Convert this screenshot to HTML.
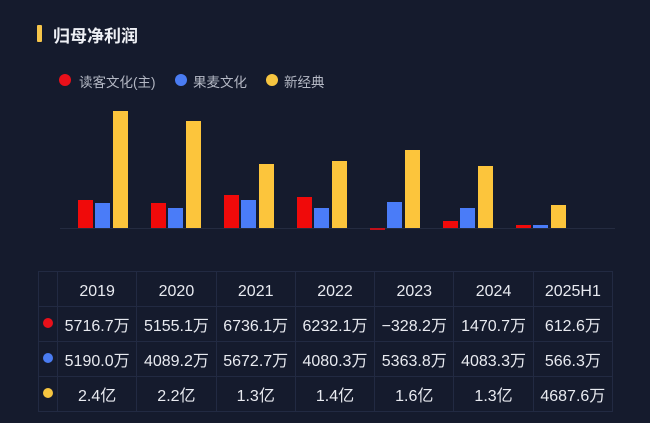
<!DOCTYPE html>
<html><head><meta charset="utf-8"><style>
body{margin:0;width:650px;height:423px;background:#151b2d;overflow:hidden;font-family:"Liberation Sans","Noto Sans CJK SC",sans-serif;position:relative}
.t{position:absolute;left:53px;top:22px;font-size:17px;color:#eef0f5;font-weight:bold}
.tb{position:absolute;left:37px;top:25px;width:5px;height:17px;background:#f6c54a;border-radius:1px}
.lg{position:absolute;top:71px;font-size:13.5px;color:#b4b8c4}
.dot{position:absolute;width:12px;height:12px;border-radius:50%}
.b{position:absolute;width:15px}
table{position:absolute;left:38px;top:271px;border-collapse:collapse;color:#e8eaf0;font-size:16px;table-layout:fixed;width:575px}
td{border:1px solid #222a42;text-align:center;height:34px;padding:0;white-space:nowrap}
tr:first-child td{height:28px;padding-top:6px}
</style></head><body>
<div class="tb"></div><div class="t">归母净利润</div>
<div class="dot" style="left:59px;top:74px;background:#e8101a"></div><div class="lg" style="left:79px">读客文化(主)</div>
<div class="dot" style="left:175px;top:74px;background:#4a7cf2"></div><div class="lg" style="left:193px">果麦文化</div>
<div class="dot" style="left:266px;top:74px;background:#f6c540"></div><div class="lg" style="left:284px">新经典</div>
<div style="position:absolute;left:60px;top:228px;width:555px;height:1px;background:#242b40"></div>
<div style="position:absolute;left:0;top:0">
<div class="b" style="left:78px;top:200px;height:28px;background:#f00a0a"></div>
<div class="b" style="left:95px;top:203px;height:25px;background:#4a7cf8"></div>
<div class="b" style="left:113px;top:111px;height:117px;background:#fcc53c"></div>
<div class="b" style="left:151px;top:203px;height:25px;background:#f00a0a"></div>
<div class="b" style="left:168px;top:208px;height:20px;background:#4a7cf8"></div>
<div class="b" style="left:186px;top:121px;height:107px;background:#fcc53c"></div>
<div class="b" style="left:224px;top:195px;height:33px;background:#f00a0a"></div>
<div class="b" style="left:241px;top:200px;height:28px;background:#4a7cf8"></div>
<div class="b" style="left:259px;top:164px;height:64px;background:#fcc53c"></div>
<div class="b" style="left:297px;top:197px;height:31px;background:#f00a0a"></div>
<div class="b" style="left:314px;top:208px;height:20px;background:#4a7cf8"></div>
<div class="b" style="left:332px;top:161px;height:67px;background:#fcc53c"></div>
<div class="b" style="left:370px;top:228px;height:2px;background:#c0101a"></div>
<div class="b" style="left:387px;top:202px;height:26px;background:#4a7cf8"></div>
<div class="b" style="left:405px;top:150px;height:78px;background:#fcc53c"></div>
<div class="b" style="left:443px;top:221px;height:7px;background:#f00a0a"></div>
<div class="b" style="left:460px;top:208px;height:20px;background:#4a7cf8"></div>
<div class="b" style="left:478px;top:166px;height:62px;background:#fcc53c"></div>
<div class="b" style="left:516px;top:225px;height:3px;background:#f00a0a"></div>
<div class="b" style="left:533px;top:225px;height:3px;background:#4a7cf8"></div>
<div class="b" style="left:551px;top:205px;height:23px;background:#fcc53c"></div>
</div>
<table>
<colgroup><col style="width:19px"><col><col><col><col><col><col><col></colgroup>
<tr><td></td><td>2019</td><td>2020</td><td>2021</td><td>2022</td><td>2023</td><td>2024</td><td>2025H1</td></tr>
<tr><td><span style="display:inline-block;width:10px;height:10px;border-radius:50%;background:#e8101a"></span></td><td>5716.7万</td><td>5155.1万</td><td>6736.1万</td><td>6232.1万</td><td>−328.2万</td><td>1470.7万</td><td>612.6万</td></tr>
<tr><td><span style="display:inline-block;width:10px;height:10px;border-radius:50%;background:#4a7cf2"></span></td><td>5190.0万</td><td>4089.2万</td><td>5672.7万</td><td>4080.3万</td><td>5363.8万</td><td>4083.3万</td><td>566.3万</td></tr>
<tr><td><span style="display:inline-block;width:10px;height:10px;border-radius:50%;background:#f6c540"></span></td><td>2.4亿</td><td>2.2亿</td><td>1.3亿</td><td>1.4亿</td><td>1.6亿</td><td>1.3亿</td><td>4687.6万</td></tr>
</table>
</body></html>
